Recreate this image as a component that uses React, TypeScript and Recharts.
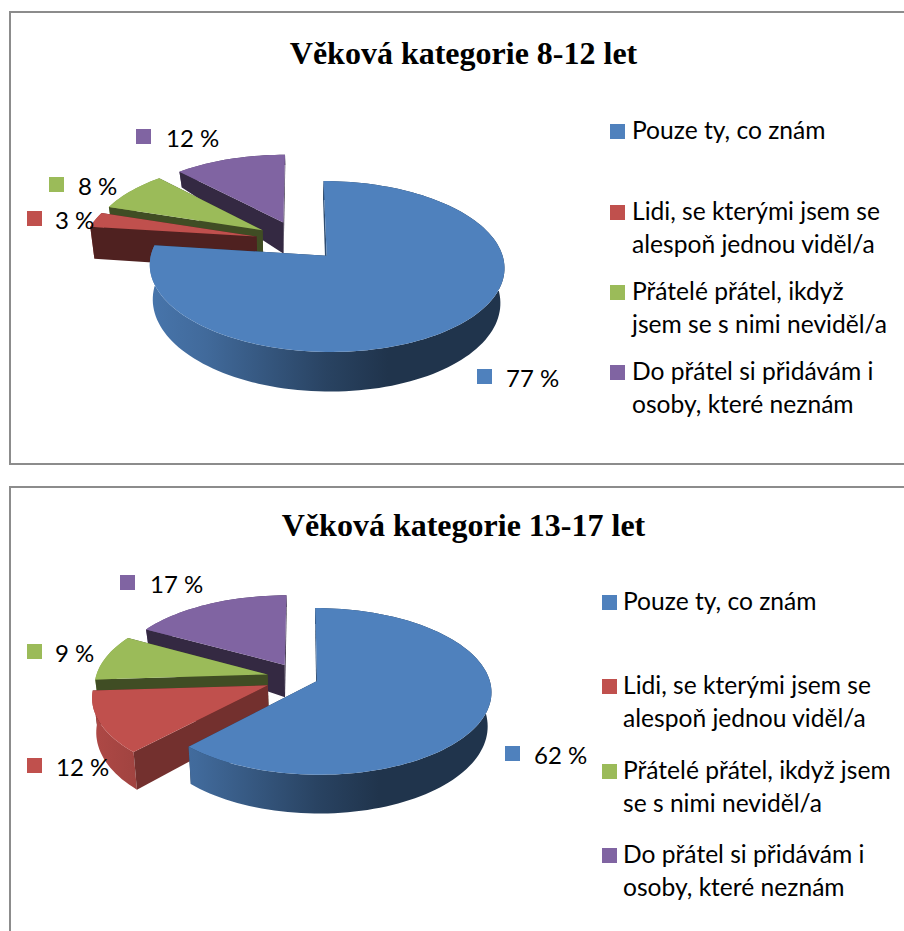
import { Legend, Pie, PieChart } from 'recharts'

const categoriesA = [
  'Pouze ty, co znám',
  'Lidi, se kterými jsem se\nalespoň jednou viděl/a',
  'Přátelé přátel, ikdyž\njsem se s nimi neviděl/a',
  'Do přátel si přidávám i\nosoby, které neznám'
]
const categoriesB = [
  'Pouze ty, co znám',
  'Lidi, se kterými jsem se\nalespoň jednou viděl/a',
  'Přátelé přátel, ikdyž jsem\nse s nimi neviděl/a',
  'Do přátel si přidávám i\nosoby, které neznám'
]
const valuesA = [77, 3, 8, 12]
const valuesB = [62, 12, 9, 17]
const colors = ['#4F81BD', '#C0504D', '#9BBB59', '#8064A2']

const FONT = 'Lato, sans-serif'

// how a chart is laid out on the page, all in px relative to its own frame
const layoutA = {
  id: 'a',
  title: 'Věková kategorie 8-12 let',
  top: 0,
  height: 470,
  frameTop: 11,
  frameHeight: 454,
  titleY: 53,
  cx: 299,
  cy: 241,
  ry: 80.4,
  explode: [0.238, 0.255, 0.255, 0.255],
  labelBox: [[477, 369], [27, 211], [49, 177], [136, 129]],
  labelText: [506, 55, 78, 166],
  legendBox: 610,
  legendText: 632,
  legendY: [131, 212, 292, 372]
}
const layoutB = {
  id: 'b',
  title: 'Věková kategorie 13-17 let',
  top: 480,
  height: 451,
  frameTop: 6,
  frameHeight: 600,
  titleY: 45,
  cx: 301,
  cy: 198,
  ry: 81.3,
  explode: [0.1, 0.21, 0.2, 0.19],
  labelBox: [[505, 266], [27, 278], [27, 164], [120, 95]],
  labelText: [534, 56, 55, 150],
  legendBox: 602,
  legendText: 623,
  legendY: [122, 206, 291, 375]
}

const PERSPECTIVE = 0.124
const RAD = Math.PI / 180

const shade = (hex: string, f: number) => {
  const n = parseInt(hex.slice(1), 16)
  const c = [(n >> 16) & 255, (n >> 8) & 255, n & 255].map((v) => Math.round(v * f))
  return `rgb(${c[0]},${c[1]},${c[2]})`
}

function makeSlice(layout: any, categories: string[]) {
  return function Slice(props: any) {
    const { cx, cy, outerRadius: R, startAngle, endAngle, fill, name } = props
    const i = categories.indexOf(name ?? props.payload?.name)
    const d = layout.explode[i]
    const mid = ((startAngle + endAngle) / 2) * RAD
    const ox = d * Math.cos(mid)
    const oy = d * Math.sin(mid)

    const project = (u: number, v: number, low: boolean) => {
      const U = u + ox
      const V = v + oy
      const w = 1 + PERSPECTIVE * V
      if (!low) return [cx + (R * U) / w, cy - (layout.ry * V) / w]
      const drop = V < 0.2 ? 32 + (0.2 - V) * 5.5 : Math.max(32 - (V - 0.2) * 21, 6)
      return [cx + (R * U * 0.98) / w, cy - (layout.ry * V) / w + drop]
    }
    const arc = (low: boolean) => {
      const pts = []
      const steps = Math.ceil(Math.abs(endAngle - startAngle) / 2)
      for (let s = 0; s <= steps; s++) {
        const a = (startAngle + ((endAngle - startAngle) * s) / steps) * RAD
        pts.push(project(Math.cos(a), Math.sin(a), low))
      }
      return pts
    }
    const path = (pts: number[][]) =>
      'M' + pts.map((p) => p[0].toFixed(2) + ',' + p[1].toFixed(2)).join('L') + 'Z'

    const top = arc(false)
    const bottom = arc(true)
    const apex = project(0, 0, false)
    const apexLow = project(0, 0, true)
    const last = top.length - 1

    // clockwise start of the slice is the larger math angle here
    const cwStart = (((90 - endAngle) % 360) + 360) % 360
    const cutShade = cwStart < 250 ? 0.6 : 0.41
    const gradId = `wall-${layout.id}-${i}`

    return (
      <g>
        <defs>
          <linearGradient
            id={gradId}
            gradientUnits="userSpaceOnUse"
            x1={cx + R * (ox - 1)}
            x2={cx + R * (ox + 1)}
            y1={0}
            y2={0}>
            <stop offset="0" stopColor={shade(fill, 0.9)} />
            <stop offset="0.15" stopColor={shade(fill, 0.82)} />
            <stop offset="0.5" stopColor={shade(fill, 0.52)} />
            <stop offset="0.68" stopColor={shade(fill, 0.4)} />
            <stop offset="1" stopColor={shade(fill, 0.4)} />
          </linearGradient>
        </defs>
        <path d={path([apex, top[0], bottom[0], apexLow])} fill={shade(fill, 0.41)} />
        <path d={path([...top, ...[...bottom].reverse()])} fill={`url(#${gradId})`} />
        <path d={path([apex, top[last], bottom[last], apexLow])} fill={shade(fill, cutShade)} />
        <path d={path([apex, ...top])} fill={fill} />
      </g>
    )
  }
}

function ChartPanel({
  layout,
  categories,
  values
}: {
  layout: any
  categories: string[]
  values: number[]
}) {
  // back slices first, so the big front slice paints over them
  const table = categories
    .map((name, i) => ({ name, value: values[i], fill: colors[i] }))
    .reverse()

  const renderLabel = (p: any) => {
    const i = categories.indexOf(p.name)
    const [bx, by] = layout.labelBox[i]
    return (
      <g>
        <rect x={bx} y={by} width={15} height={15} fill={colors[i]} />
        <text
          x={layout.labelText[i]}
          y={by + 8}
          dominantBaseline="central"
          textAnchor="start"
          fontFamily={FONT}
          fontSize={24}
          fill="#000">
          {values[i]} %
        </text>
      </g>
    )
  }

  const renderLegend = () => (
    <div style={{ position: 'relative', width: 904, height: layout.height }}>
      {categories.map((name, i) => (
        <div key={name}>
          <div
            style={{
              position: 'absolute',
              left: layout.legendBox,
              top: layout.legendY[i] - 7,
              width: 15,
              height: 15,
              background: colors[i]
            }}
          />
          <div
            style={{
              position: 'absolute',
              left: layout.legendText,
              top: layout.legendY[i] - 18.5,
              fontFamily: FONT,
              fontSize: 24.6,
              lineHeight: '33px',
              whiteSpace: 'pre',
              color: '#000'
            }}>
            {name}
          </div>
        </div>
      ))}
    </div>
  )

  return (
    <div
      style={{
        position: 'absolute',
        left: 0,
        top: layout.top,
        width: 904,
        height: layout.height,
        overflow: 'hidden'
      }}>
      <div
        style={{
          position: 'absolute',
          left: 9,
          top: layout.frameTop,
          width: 920,
          height: layout.frameHeight,
          boxSizing: 'border-box',
          border: '2px solid #8c8c8c'
        }}
      />
      <div
        style={{
          position: 'absolute',
          left: 0,
          width: 927,
          top: layout.titleY - 20,
          textAlign: 'center',
          fontFamily: '"Liberation Serif", serif',
          fontWeight: 'bold',
          fontSize: 32,
          lineHeight: '40px',
          color: '#000'
        }}>
        {layout.title}
      </div>
      <PieChart
        width={904}
        height={layout.height}
        margin={{ top: 0, right: 0, bottom: 0, left: 0 }}
        style={{ position: 'absolute', left: 0, top: 0 }}>
        <Pie
          data={table}
          dataKey="value"
          nameKey="name"
          cx={layout.cx}
          cy={layout.cy}
          outerRadius={172}
          startAngle={90}
          endAngle={450}
          stroke="none"
          isAnimationActive={false}
          shape={makeSlice(layout, categories)}
          label={renderLabel}
          labelLine={false}
        />
        <Legend
          content={renderLegend}
          wrapperStyle={{ position: 'absolute', left: 0, top: 0, width: 904, height: layout.height }}
        />
      </PieChart>
    </div>
  )
}

export default function App() {
  return (
    <div style={{ position: 'absolute', left: 0, top: 0, width: 904, height: 931, overflow: 'hidden', background: '#fff' }}>
      <ChartPanel layout={layoutA} categories={categoriesA} values={valuesA} />
      <ChartPanel layout={layoutB} categories={categoriesB} values={valuesB} />
    </div>
  )
}
